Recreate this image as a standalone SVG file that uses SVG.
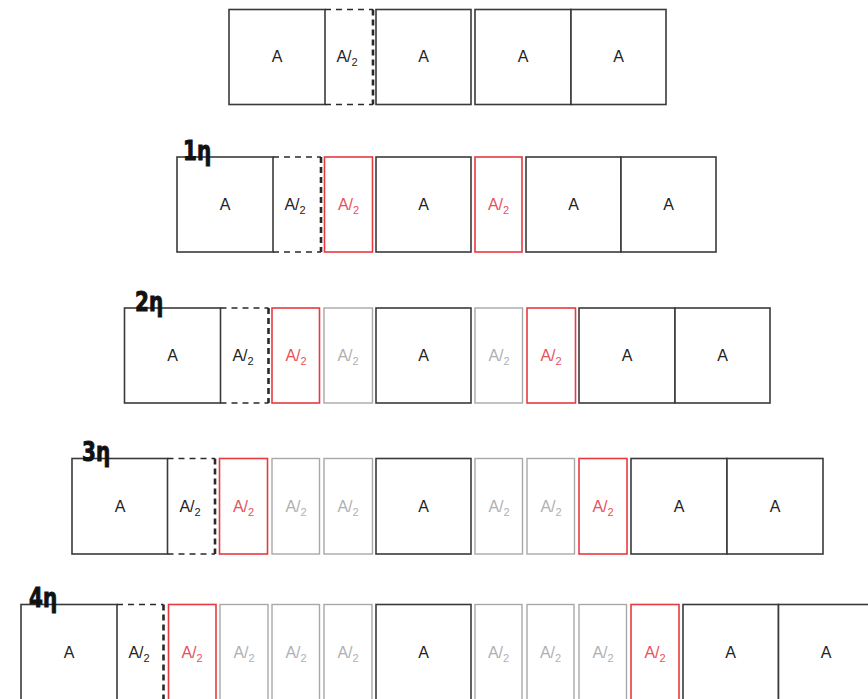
<svg xmlns="http://www.w3.org/2000/svg" width="868" height="699" viewBox="0 0 868 699">
<style>
.k{fill:#fff;stroke:#3a3a3a;stroke-width:1.6}
.r{fill:#fff;stroke:#e63a40;stroke-width:1.6}
.g{fill:#fff;stroke:#a8a8a8;stroke-width:1.4}
.dh{fill:none;stroke:#2a2a2a;stroke-width:1.6;stroke-dasharray:6 5}
.dv{fill:none;stroke:#2a2a2a;stroke-width:2.6;stroke-dasharray:6 4}
text{font-family:"Liberation Sans",Arial,sans-serif;font-size:16px;text-anchor:middle}
.tk{fill:#222}
.tr{fill:#e8505a}
.tg{fill:#b0b0b0}
.s{font-size:11px}
.lbl{font-family:"DejaVu Sans","Liberation Sans",sans-serif;font-weight:bold;font-size:27px;text-anchor:start;fill:#111;stroke:#111;stroke-width:1}
</style>
<rect width="868" height="699" fill="#fff"/>
<g id="connectors"/>

<!-- Row 0 -->
<g id="r0">
<g id="r0a1"><rect class="k" x="229" y="9.5" width="96" height="95"/><text class="tk" x="277" y="62">A</text></g>
<g id="r0d"><path class="dh" d="M325 9.5H373M325 104.5H373"/><path class="dv" d="M373 9.5V104.5"/><text class="tk" x="347" y="62">A/<tspan class="s" dy="4">2</tspan></text></g>
<g id="r0a2"><rect class="k" x="376" y="9.5" width="95" height="95"/><text class="tk" x="423.5" y="62">A</text></g>
<g id="r0a3"><rect class="k" x="475" y="9.5" width="96" height="95"/><text class="tk" x="523" y="62">A</text></g>
<g id="r0a4"><rect class="k" x="571" y="9.5" width="95" height="95"/><text class="tk" x="618.5" y="62">A</text></g>
</g>

<!-- Row 1 -->
<g id="r1">
<g id="r1a1"><rect class="k" x="177" y="157" width="96" height="95"/><text class="tk" x="225" y="210">A</text></g>
<g id="r1d"><path class="dh" d="M273 157H321M273 252H321"/><path class="dv" d="M321 157V252"/><text class="tk" x="295" y="210">A/<tspan class="s" dy="4">2</tspan></text></g>
<g id="r1r1"><rect class="r" x="324.5" y="157" width="48" height="95"/><text class="tr" x="348.5" y="210">A/<tspan class="s" dy="4">2</tspan></text></g>
<g id="r1a2"><rect class="k" x="376" y="157" width="95" height="95"/><text class="tk" x="423.5" y="210">A</text></g>
<g id="r1r2"><rect class="r" x="475" y="157" width="47" height="95"/><text class="tr" x="498.5" y="210">A/<tspan class="s" dy="4">2</tspan></text></g>
<g id="r1a3"><rect class="k" x="526" y="157" width="95" height="95"/><text class="tk" x="573.5" y="210">A</text></g>
<g id="r1a4"><rect class="k" x="621" y="157" width="95" height="95"/><text class="tk" x="668.5" y="210">A</text></g>
<text id="l1" class="lbl" transform="translate(183,159.5) scale(0.74,1)">1η</text>
</g>

<!-- Row 2 -->
<g id="r2">
<g id="r2a1"><rect class="k" x="124.5" y="308" width="96" height="95"/><text class="tk" x="172.5" y="361">A</text></g>
<g id="r2d"><path class="dh" d="M220.5 308H268.5M220.5 403H268.5"/><path class="dv" d="M268.5 308V403"/><text class="tk" x="243" y="361">A/<tspan class="s" dy="4">2</tspan></text></g>
<g id="r2r1"><rect class="r" x="272" y="308" width="47.5" height="95"/><text class="tr" x="296" y="361">A/<tspan class="s" dy="4">2</tspan></text></g>
<g id="r2g1"><rect class="g" x="324" y="308" width="48.5" height="95"/><text class="tg" x="348" y="361">A/<tspan class="s" dy="4">2</tspan></text></g>
<g id="r2a2"><rect class="k" x="376" y="308" width="95" height="95"/><text class="tk" x="423.5" y="361">A</text></g>
<g id="r2g2"><rect class="g" x="475" y="308" width="47.5" height="95"/><text class="tg" x="499" y="361">A/<tspan class="s" dy="4">2</tspan></text></g>
<g id="r2r2"><rect class="r" x="527" y="308" width="48.5" height="95"/><text class="tr" x="551" y="361">A/<tspan class="s" dy="4">2</tspan></text></g>
<g id="r2a3"><rect class="k" x="579" y="308" width="96" height="95"/><text class="tk" x="627" y="361">A</text></g>
<g id="r2a4"><rect class="k" x="675" y="308" width="95" height="95"/><text class="tk" x="722.5" y="361">A</text></g>
<text id="l2" class="lbl" transform="translate(135,310.5) scale(0.74,1)">2η</text>
</g>

<!-- Row 3 -->
<g id="r3">
<g id="r3a1"><rect class="k" x="72" y="458.5" width="95.5" height="95.5"/><text class="tk" x="120" y="511.5">A</text></g>
<g id="r3d"><path class="dh" d="M167.5 458.5H215M167.5 554H215"/><path class="dv" d="M215 458.5V554"/><text class="tk" x="190" y="511.5">A/<tspan class="s" dy="4">2</tspan></text></g>
<g id="r3r1"><rect class="r" x="219.5" y="458.5" width="48" height="95.5"/><text class="tr" x="243.5" y="511.5">A/<tspan class="s" dy="4">2</tspan></text></g>
<g id="r3g1"><rect class="g" x="272" y="458.5" width="47.5" height="95.5"/><text class="tg" x="296" y="511.5">A/<tspan class="s" dy="4">2</tspan></text></g>
<g id="r3g2"><rect class="g" x="324" y="458.5" width="48.5" height="95.5"/><text class="tg" x="348" y="511.5">A/<tspan class="s" dy="4">2</tspan></text></g>
<g id="r3a2"><rect class="k" x="376" y="458.5" width="95" height="95.5"/><text class="tk" x="423.5" y="511.5">A</text></g>
<g id="r3g3"><rect class="g" x="475" y="458.5" width="47.5" height="95.5"/><text class="tg" x="499" y="511.5">A/<tspan class="s" dy="4">2</tspan></text></g>
<g id="r3g4"><rect class="g" x="527" y="458.5" width="47.5" height="95.5"/><text class="tg" x="551" y="511.5">A/<tspan class="s" dy="4">2</tspan></text></g>
<g id="r3r2"><rect class="r" x="579" y="458.5" width="48" height="95.5"/><text class="tr" x="603" y="511.5">A/<tspan class="s" dy="4">2</tspan></text></g>
<g id="r3a3"><rect class="k" x="631" y="458.5" width="96" height="95.5"/><text class="tk" x="679" y="511.5">A</text></g>
<g id="r3a4"><rect class="k" x="727" y="458.5" width="96" height="95.5"/><text class="tk" x="775" y="511.5">A</text></g>
<text id="l3" class="lbl" transform="translate(82,461) scale(0.74,1)">3η</text>
</g>

<!-- Row 4 -->
<g id="r4">
<g id="r4a1"><rect class="k" x="21" y="604.5" width="96" height="96"/><text class="tk" x="69" y="658">A</text></g>
<g id="r4d"><path class="dh" d="M117 604.5H163.5M117 700H163.5"/><path class="dv" d="M163.5 604.5V700"/><text class="tk" x="139" y="658">A/<tspan class="s" dy="4">2</tspan></text></g>
<g id="r4r1"><rect class="r" x="168.5" y="604.5" width="47.5" height="96"/><text class="tr" x="192" y="658">A/<tspan class="s" dy="4">2</tspan></text></g>
<g id="r4g1"><rect class="g" x="220" y="604.5" width="48" height="96"/><text class="tg" x="244" y="658">A/<tspan class="s" dy="4">2</tspan></text></g>
<g id="r4g2"><rect class="g" x="272" y="604.5" width="47.5" height="96"/><text class="tg" x="296" y="658">A/<tspan class="s" dy="4">2</tspan></text></g>
<g id="r4g3"><rect class="g" x="324" y="604.5" width="48" height="96"/><text class="tg" x="348" y="658">A/<tspan class="s" dy="4">2</tspan></text></g>
<g id="r4a2"><rect class="k" x="376" y="604.5" width="95" height="96"/><text class="tk" x="423.5" y="658">A</text></g>
<g id="r4g4"><rect class="g" x="475" y="604.5" width="47" height="96"/><text class="tg" x="498.5" y="658">A/<tspan class="s" dy="4">2</tspan></text></g>
<g id="r4g5"><rect class="g" x="527" y="604.5" width="47" height="96"/><text class="tg" x="550.5" y="658">A/<tspan class="s" dy="4">2</tspan></text></g>
<g id="r4g6"><rect class="g" x="579" y="604.5" width="47.5" height="96"/><text class="tg" x="603" y="658">A/<tspan class="s" dy="4">2</tspan></text></g>
<g id="r4r2"><rect class="r" x="631" y="604.5" width="48" height="96"/><text class="tr" x="655" y="658">A/<tspan class="s" dy="4">2</tspan></text></g>
<g id="r4a3"><rect class="k" x="683" y="604.5" width="95.5" height="96"/><text class="tk" x="730.5" y="658">A</text></g>
<g id="r4a4"><rect class="k" x="778.5" y="604.5" width="96" height="96"/><text class="tk" x="826" y="658">A</text></g>
<text id="l4" class="lbl" transform="translate(29,607) scale(0.74,1)">4η</text>
</g>
</svg>
